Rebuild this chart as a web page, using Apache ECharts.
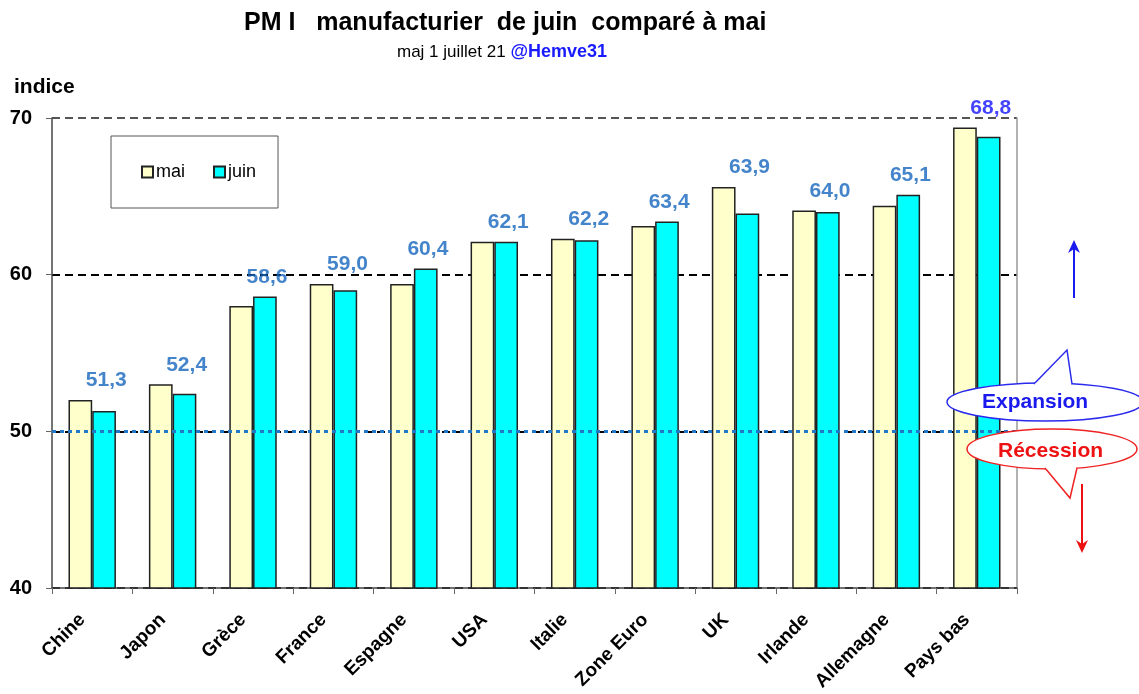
<!DOCTYPE html>
<html>
<head>
<meta charset="utf-8">
<script src="https://cdn.jsdelivr.net/npm/echarts@6/dist/echarts.min.js"></script>
<style>
  html, body { margin: 0; padding: 0; background: #fff; }
  #chart { width: 1139px; height: 694px; }
</style>
</head>
<body>
<div id="chart"></div>
<script>
// pays
var categories = ['Chine', 'Japon', 'Grèce', 'France', 'Espagne', 'USA', 'Italie', 'Zone Euro', 'UK', 'Irlande', 'Allemagne', 'Pays bas'];
// PMI de mai
var maiValues = [52.0, 53.0, 58.0, 59.4, 59.4, 62.1, 62.3, 63.1, 65.6, 64.1, 64.4, 69.4];
// PMI de juin (étiquettes)
var juinValues = [51.3, 52.4, 58.6, 59.0, 60.4, 62.1, 62.2, 63.4, 63.9, 64.0, 65.1, 68.8];
var yTicks = [40, 50, 60, 70];

var FONT = 'Arial, "Liberation Sans", sans-serif';

// hauteur de l'étiquette : au-dessus de la plus haute des deux barres
var labelPos = maiValues.map(function (v, i) { return Math.max(v, juinValues[i]); });

function fmt(v) { return v.toFixed(1).replace('.', ','); }

var chart = echarts.init(document.getElementById('chart'));

var option = {
  backgroundColor: '#fff',
  animation: false,
  title: [
    {
      text: 'PM I   manufacturier  de juin  comparé à mai',
      left: 239, top: 6,
      textStyle: { fontFamily: FONT, fontSize: 25, fontWeight: 'bold', color: '#000' }
    },
    {
      text: '{a|maj 1 juillet 21 }{b|@Hemve31}',
      left: 392, top: 38,
      textStyle: {
        rich: {
          a: { fontFamily: FONT, fontSize: 17, fontWeight: 'normal', color: '#000' },
          b: { fontFamily: FONT, fontSize: 18, fontWeight: 'bold', color: '#1a1aff' }
        }
      }
    }
  ],
  legend: {
    left: 111, top: 136,
    orient: 'horizontal',
    borderColor: '#555', borderWidth: 1,
    padding: [27, 22, 27, 30],
    itemGap: 28, itemWidth: 11, itemHeight: 11,
    icon: 'rect',
    textStyle: { fontFamily: FONT, fontSize: 18, color: '#000', padding: [0, 0, 0, -2] },
    data: ['mai', 'juin']
  },
  grid: { left: 52, right: 122, top: 118, bottom: 106 },
  xAxis: {
    type: 'category',
    data: categories,
    axisLine: { lineStyle: { color: '#444', width: 1.5 } },
    axisTick: { show: true, length: 6, lineStyle: { color: '#666' } },
    axisLabel: {
      rotate: 45, margin: 19, interval: 0,
      padding: [0, 14, 0, 0],
      fontFamily: FONT, fontSize: 19, fontWeight: 'bold', color: '#000'
    }
  },
  yAxis: [
    {
      type: 'value',
      min: yTicks[0], max: yTicks[yTicks.length - 1], interval: 10,
      name: 'indice',
      nameLocation: 'end',
      nameGap: 0,
      nameTextStyle: { fontFamily: FONT, fontSize: 21, fontWeight: 'bold', color: '#000', align: 'left', padding: [0, 0, 20, -38] },
      axisLine: { show: true, lineStyle: { color: '#444', width: 1.5 } },
      axisTick: { show: true, length: 6, lineStyle: { color: '#666' } },
      axisLabel: { margin: 20, fontFamily: FONT, fontSize: 20, fontWeight: 'bold', color: '#000' },
      splitLine: {
        show: true,
        lineStyle: { type: [8, 5], width: 2, color: ['#000', '#000', '#000', '#555'] }
      }
    },
    {
      type: 'value',
      min: yTicks[0], max: yTicks[yTicks.length - 1], interval: 10,
      position: 'right',
      axisLine: { show: true, lineStyle: { color: '#999', width: 1.5 } },
      axisTick: { show: false },
      axisLabel: { show: false },
      splitLine: { show: false }
    }
  ],
  series: [
    {
      name: 'mai',
      type: 'bar',
      data: maiValues,
      barGap: '0%',
      barCategoryGap: '41%',
      itemStyle: { color: '#ffffcc', borderColor: '#222', borderWidth: 1.5 }
    },
    {
      name: 'juin',
      type: 'bar',
      data: juinValues,
      itemStyle: { color: '#00ffff', borderColor: '#222', borderWidth: 1.5 },
      markLine: {
        silent: true,
        symbol: 'none',
        label: { show: false },
        lineStyle: { type: [4, 4], color: '#1f78c8', width: 3 },
        data: [{ yAxis: 50 }]
      }
    },
    {
      name: 'etiquettes',
      type: 'scatter',
      data: labelPos,
      symbolSize: 0,
      silent: true,
      z: 5,
      label: {
        show: true,
        position: 'top',
        distance: 9,
        offset: [14, 0],
        formatter: function (p) {
          var t = fmt(juinValues[p.dataIndex]);
          return p.dataIndex === categories.length - 1 ? '{h|' + t + '}' : '{n|' + t + '}';
        },
        rich: {
          n: { fontFamily: FONT, fontSize: 21, fontWeight: 'bold', color: '#1565bd' },
          h: { fontFamily: FONT, fontSize: 21, fontWeight: 'bold', color: '#1414ff' }
        }
      }
    }
  ],
  graphic: [
    // flèche bleue
    { type: 'line', shape: { x1: 1074, y1: 298, x2: 1074, y2: 246 }, style: { stroke: '#1a1aee', lineWidth: 2 }, z: 10 },
    { type: 'polygon', shape: { points: [[1068, 253], [1074, 240], [1080, 253], [1074, 249]] }, style: { fill: '#1a1aee' }, z: 10 },
    // bulle Expansion
    { type: 'ellipse', shape: { cx: 1045, cy: 402, rx: 98, ry: 19 }, style: { fill: '#fff', stroke: '#2a2aee', lineWidth: 1.5 }, z: 10 },
    { type: 'polyline', shape: { points: [[1034, 384], [1067, 350], [1072, 384]] }, style: { fill: '#fff', stroke: '#2a2aee', lineWidth: 1.5 }, z: 11 },
    { type: 'line', shape: { x1: 1035, y1: 384.5, x2: 1071, y2: 384.5 }, style: { stroke: '#fff', lineWidth: 2 }, z: 11 },
    { type: 'text', left: 982, top: 392, style: { text: 'Expansion', font: 'bold 21px ' + FONT, fill: '#1a1aee' }, z: 12 },
    // bulle Récession
    { type: 'ellipse', shape: { cx: 1052, cy: 449, rx: 85, ry: 20 }, style: { fill: '#fff', stroke: '#ee2222', lineWidth: 1.5 }, z: 10 },
    { type: 'polyline', shape: { points: [[1045, 468], [1070, 498], [1077, 468]] }, style: { fill: '#fff', stroke: '#ee2222', lineWidth: 1.5 }, z: 11 },
    { type: 'line', shape: { x1: 1046, y1: 467.5, x2: 1076, y2: 467.5 }, style: { stroke: '#fff', lineWidth: 2 }, z: 11 },
    { type: 'text', left: 998, top: 441, style: { text: 'Récession', font: 'bold 21px ' + FONT, fill: '#ee1111' }, z: 12 },
    // flèche rouge
    { type: 'line', shape: { x1: 1082, y1: 484, x2: 1082, y2: 546 }, style: { stroke: '#ee1111', lineWidth: 2 }, z: 10 },
    { type: 'polygon', shape: { points: [[1076, 540], [1082, 553], [1088, 540], [1082, 544]] }, style: { fill: '#ee1111' }, z: 10 }
  ]
};

chart.setOption(option);
</script>
</body>
</html>
